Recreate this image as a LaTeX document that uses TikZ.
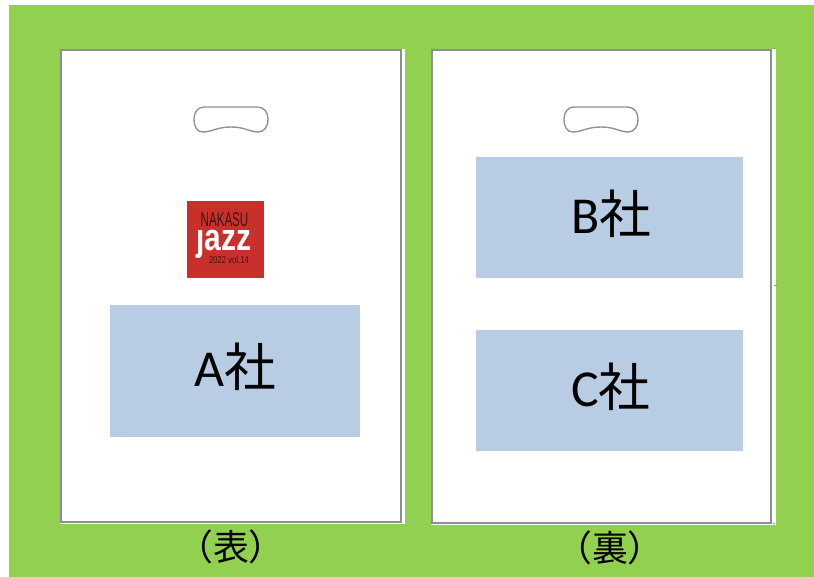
\documentclass[tikz,border=0pt]{standalone}
\usepackage{fontspec}
\setmainfont{Carlito}
\newfontfamily\jpfont{Noto Sans CJK JP}
\newfontfamily\logofont{Liberation Sans}
\definecolor{bggreen}{HTML}{92D050}
\definecolor{panelblue}{HTML}{B8CCE4}
\definecolor{edgegrey}{HTML}{8E8E96}
\definecolor{logored}{HTML}{C9302C}
\definecolor{logodark}{HTML}{3F1210}
\tikzset{
  bag/.style={draw=edgegrey,line width=1.5pt,fill=white},
  sidestrip/.style={fill=white,draw=none},
  tick/.style={draw=edgegrey,line width=1pt},
  panel/.style={fill=panelblue,draw=none},
  paneltext/.style={inner sep=0pt,font=\fontsize{52}{52}\selectfont},
  caption/.style={font=\jpfont\fontsize{36}{36}\selectfont,inner sep=0pt},
  handle/.style={draw=gray!85,line width=1.4pt,fill=white},
  logotext/.style={inner sep=0pt,anchor=base,text height=0pt,text depth=0pt},
}
\begin{document}
\begin{tikzpicture}[x=1bp,y=-1bp]
\useasboundingbox (0,0) rectangle (814,577);
\fill[white] (0,0) rectangle (814,577);
\fill[bggreen] (9,5) rectangle (814,577);
% left bag
\fill[sidestrip] (60,49) rectangle (405,524);
\draw[bag] (61,50) -- (61,522) -- (401,522) -- (401,50) -- cycle;
% right bag
\fill[sidestrip] (431,49) rectangle (776,525);
\draw[bag] (432,50) -- (432,523) -- (771,523) -- (771,50) -- cycle;
\draw[tick] (774,285) -- (777,285);
\draw[tick] (773,49) -- (775,49);
\draw[tick] (773,523.5) -- (775,523.5);
% handles
\draw[handle] (204,107) -- (257,107) .. controls (264,107) and (268,112) .. (268,119)
  .. controls (268,127) and (264,132) .. (258,132)
  .. controls (250,132) and (245,127) .. (231,127)
  .. controls (217,127) and (212,132) .. (203,132)
  .. controls (197,132) and (194,127) .. (194,119)
  .. controls (194,112) and (198,107) .. (204,107) -- cycle;
\draw[handle] (574,107) -- (627,107) .. controls (634,107) and (638,112) .. (638,119)
  .. controls (638,127) and (634,132) .. (628,132)
  .. controls (620,132) and (615,127) .. (601,127)
  .. controls (587,127) and (582,132) .. (573,132)
  .. controls (567,132) and (564,127) .. (564,119)
  .. controls (564,112) and (568,107) .. (574,107) -- cycle;
% logo
\fill[logored] (186.5,201) rectangle (264,277.5);
\node[logotext,text=logodark,font=\logofont\fontsize{20}{20}\selectfont,xscale=0.58] (logotop) at (224.5,227) {NAKASU};
\node[logotext,text=white,font=\logofont\bfseries\fontsize{38}{38}\selectfont,xscale=0.79] (logojazz) at (224,250) {ȷazz};
\node[logotext,text=logodark,font=\logofont\fontsize{10}{10}\selectfont,xscale=0.77] (logoyear) at (229,263.5) {2022 vol.14};
% panels
\path[panel] (110,305) rectangle (360,437);
\path[panel] (476,157) rectangle (743,278);
\path[panel] (476,330) rectangle (743,451);
\node[paneltext] (a) at (235,366.5) {A\jpfont 社};
\node[paneltext] (b) at (611,213.5) {B\jpfont 社};
\node[paneltext] (c) at (611,386.5) {C\jpfont 社};
% captions
\node[caption] (front) at (231,547) {（表）};
\node[caption] (back) at (610,548) {（裏）};
\end{tikzpicture}
\end{document}
